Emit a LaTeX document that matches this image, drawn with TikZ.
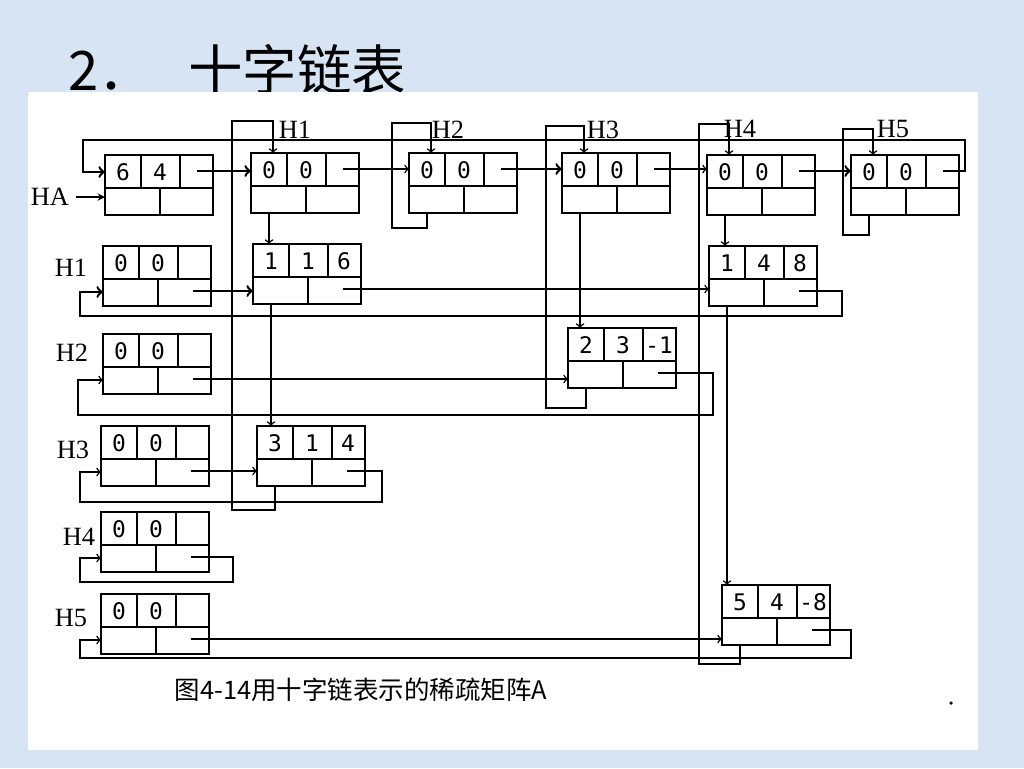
\documentclass[tikz,border=0pt]{standalone}
\usepackage{fontspec}
\newfontfamily\cjk{Noto Sans CJK SC}
\newfontfamily\digitfont{DejaVu Sans Mono}
\newfontfamily\labfont{Liberation Serif}
\usetikzlibrary{calc}
\definecolor{slideblue}{RGB}{214,228,244}

% one node of the orthogonal list: row, col, value / down, right
\newcommand{\olnode}[5]{%
  \node[olbox] (#1) at (#2) {};
  \draw[cellline] (#1.north west) ++(0,33) -- ++(108,0);
  \draw[cellline] (#1.north west) ++(36,0) -- ++(0,33);
  \draw[cellline] (#1.north west) ++(75,0) -- ++(0,33);
  \draw[cellline] (#1.south west) ++(55,0) -- ++(0,-27);
  \node[digit] (#1-v1) at ($(#1.north west)+(18,17)$) {#3};
  \node[digit] (#1-v2) at ($(#1.north west)+(55,17)$) {#4};
  \node[digit] (#1-v3) at ($(#1.north west)+(91,17)$) {#5};
  \coordinate (#1-d) at ($(#1.south west)+(18,0)$);
  \coordinate (#1-n) at ($(#1.north west)+(22,0)$);
  \coordinate (#1-r) at ($(#1.north west)+(90,45)$);
  \coordinate (#1-t) at ($(#1.north west)+(92,16)$);
  \coordinate (#1-w) at ($(#1.north west)+(0,46)$);
  \coordinate (#1-e) at ($(#1.north west)+(0,17)$);
}

\begin{document}
\begin{tikzpicture}[x=0.02cm, y=-0.02cm, >=to,
    olbox/.style={draw, line width=1.3pt, minimum width=2.16cm, minimum height=1.2cm,
      inner sep=0pt, outer sep=0pt, anchor=north west},
    cellline/.style={line width=1pt},
    digit/.style={font=\digitfont\fontsize{13}{13}\selectfont, inner sep=0pt},
    hlabel/.style={font=\labfont\fontsize{15}{15}\selectfont, inner sep=0pt},
    link/.style={line width=0.85pt},
    biglink/.style={line width=1.4pt}]
  \useasboundingbox (0,0) rectangle (1024,768);
  \fill[slideblue] (0,0) rectangle (1024,768);
  \node[font=\cjk\fontsize{31}{31}\selectfont, anchor=base west, inner sep=0pt] (ttlnum) at (68,90) {2．};
  \node[font=\cjk\fontsize{31}{31}\selectfont, anchor=base west, inner sep=0pt] (ttl) at (188,90) {十字链表};
  \fill[white] (28,92) rectangle (978,750);

  % head nodes
  \olnode{HA}{105,155}{6}{4}{}
  \olnode{C1}{251,153}{0}{0}{}
  \olnode{C2}{409,153}{0}{0}{}
  \olnode{C3}{562,153}{0}{0}{}
  \olnode{C4}{707,155}{0}{0}{}
  \olnode{C5}{851,155}{0}{0}{}
  \olnode{R1}{103,246}{0}{0}{}
  \olnode{R2}{103,334}{0}{0}{}
  \olnode{R3}{101,426}{0}{0}{}
  \olnode{R4}{101,512}{0}{0}{}
  \olnode{R5}{101,594}{0}{0}{}
  % elements
  \olnode{A11}{253,244}{1}{1}{6}
  \olnode{A14}{709,246}{1}{4}{8}
  \olnode{A23}{568,328}{2}{3}{-1}
  \olnode{A31}{257,426}{3}{1}{4}
  \olnode{A54}{722,585}{5}{4}{-8}

  \node[hlabel] (CH1) at (295,130) {H1};
  \node[hlabel] (CH2) at (448,130) {H2};
  \node[hlabel] (CH3) at (603,130) {H3};
  \node[hlabel] (CH4) at (740,129) {H4};
  \node[hlabel] (CH5) at (893,129) {H5};
  \node[hlabel] (RH1) at (71,268) {H1};
  \node[hlabel] (RH2) at (72,353) {H2};
  \node[hlabel] (RH3) at (73,450) {H3};
  \node[hlabel] (RH4) at (79,537) {H4};
  \node[hlabel] (RH5) at (71,618) {H5};
  \node[hlabel] (HAlab) at (50,197) {HA};
  \draw[link,-stealth] ([xshift=4pt]HAlab.east) -- (HAlab.east -| HA.west);

  % list of column heads
  \draw[biglink,->] (HA-t) -- (HA-t -| C1.west); \draw[link,->] (C1-t) -- (C1-t -| C2.west);
  \draw[biglink,->] (C2-t) -- (C2-t -| C3.west); \draw[link,->] (C3-t) -- (C3-t -| C4.west);
  \draw[biglink,->] (C4-t) -- (C4-t -| C5.west);
  \draw[biglink,->] (C5-t) -- ++(22,0) |- (83,140) |- (HA-e);

  % columns
  \draw[link,->] (C1-d) -- (C1-d |- A11.north); \draw[link,->] (A11-d) -- (A11-d |- A31.north);
  \draw[link,->] (A31-d) -- ++(0,24) -| (232,121) -| (C1-n);
  \draw[link,->] (C2-d) -- ++(0,15) -| (392,123) -| (C2-n);
  \draw[link,->] (C3-d) -- (C3-d |- A23.north);
  \draw[link,->] (A23-d) -- ++(0,20) -| (546,126) -| (C3-n);
  \draw[link,->] (C4-d) -- (C4-d |- A14.north); \draw[link,->] (A14-d) -- (A14-d |- A54.north);
  \draw[biglink] (A54-d) -- ++(0,19) -| (699,124) -- (710,124);
  \draw[link,->] (710,124) -| (C4-n);
  \draw[link,->] (C5-d) -- ++(0,20) -| (843,129) -| (C5-n);

  % rows
  \draw[biglink,->] (R1-r) -- (R1-r -| A11.west); \draw[link,->] (A11-r) -- (A11-r -| A14.west);
  \draw[biglink,->] (A14-r) -- ++(43,0) |- (80,316) |- (R1-w);
  \draw[link,->] (R2-r) -- (R2-r -| A23.west);
  \draw[link,->] (A23-r) -- ++(55,0) |- (78,415) |- (R2-w);
  \draw[link,->] (R3-r) -- (R3-r -| A31.west);
  \draw[link,->] (A31-r) -- ++(35,0) |- (80,502) |- (R3-w);
  \draw[link,->] (R4-r) -- ++(42,0) |- (80,582) |- (R4-w);
  \draw[link,->] (R5-r) -- (R5-r -| A54.west);
  \draw[link,->] (A54-r) -- ++(39,0) |- (80,658) |- (R5-w);

  \node[font=\cjk\fontsize{14.5}{14.5}\selectfont, inner sep=0pt] (cap) at (361,690) {图4-14用十字链表示的稀疏矩阵A};
  \fill (951,703) circle[radius=1pt];
\end{tikzpicture}
\end{document}
